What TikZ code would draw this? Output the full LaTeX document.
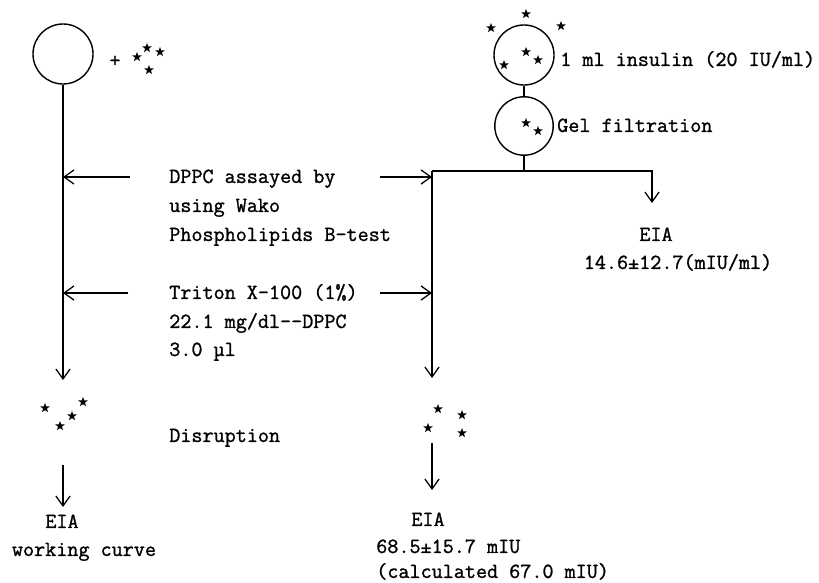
\documentclass[tikz,border=0pt]{standalone}
\usepackage{fontspec}
\newfontfamily\cour[FakeBold=1.2]{Latin Modern Mono}
\usetikzlibrary{shapes.geometric,arrows.meta}

\tikzset{
  cell/.style={draw, circle, line width=1pt, minimum size=1.5cm, inner sep=0pt},
  ins/.style={star, star points=5, star point ratio=2.4, fill, inner sep=0pt, minimum size=0.25cm},
  lbl/.style={font=\cour\fontsize{15.3}{20}\selectfont, inner sep=0pt, text height=8.5pt, text depth=0pt},
  flow/.style={line width=0.9pt, -{Straight Barb[length=7pt,width=10pt,line width=0.9pt]}},
  wire/.style={line width=0.9pt},
}

\begin{document}
\begin{tikzpicture}[x=0.025cm,y=-0.025cm]

% ---- layout parameters (pixels of the page) ----
\def\xL{63}     % left column
\def\xR{432}    % middle column
\def\xE{652}    % right branch
\def\yA{177}    % DPPC row
\def\yB{293}    % Triton row
\def\yT{171}    % branch line

\useasboundingbox (0,0) rectangle (819,583);

% Liposome, free insulin and column
\node[cell] (lip) at (\xL,54) {};
\node[lbl] (plus) at (115,61) {+};
\node[cell] (vial) at (524,55) {};
\node[cell, minimum size=1.46cm] (gel) at (524,126) {};

% insulin stars
\foreach \p [count=\i] in {(137,57),(147,48),(160,52),(149,70)}
  \node[ins] (fa\i) at \p {};
\foreach \p [count=\i] in {(526,14),(491,28),(561,26),(504,65),(526,52),(538,60)}
  \node[ins] (va\i) at \p {};
\foreach \p [count=\i] in {(526,123),(538,131)}
  \node[ins] (ga\i) at \p {};
\foreach \p [count=\i] in {(45,408),(83,402),(72,416),(60,426)}
  \node[ins] (la\i) at \p {};
\foreach \p [count=\i] in {(438,409),(462,415),(428,428),(462,433)}
  \node[ins] (ra\i) at \p {};

% Labels
\node[lbl, anchor=west] (insulin) at (560,60) {1 ml insulin (20 IU/ml)};
\node[lbl, anchor=west] (gelt) at (557,126) {Gel filtration};
\node[lbl, anchor=west] (dp1) at (169,\yA) {DPPC assayed by};
\node[lbl, anchor=west] (dp2) at (169,206) {using Wako};
\node[lbl, anchor=west] (dp3) at (169,235) {Phospholipids B-test};
\node[lbl, anchor=west] (tr1) at (169,\yB) {Triton X-100 (1\%)};
\node[lbl, anchor=west] (tr2) at (169,322) {22.1 mg/dl--DPPC};
\node[lbl, anchor=west] (tr3) at (169,350) {3.0 µl};
\node[lbl, anchor=west] (dis) at (169,436) {Disruption};
\node[lbl] (eiaT) at (656,235) {EIA};
\node[lbl] (eiaTv) at (678,263) {14.6±12.7(mIU/ml)};
\node[lbl] (eiaL) at (62,522) {EIA};
\node[lbl] (eiaLv) at (84,550) {working curve};
\node[lbl] (eiaR) at (428,520) {EIA};
\node[lbl, anchor=west] (eiaRv) at (376,547) {68.5±15.7 mIU};
\node[lbl, anchor=west] (eiaRc) at (376,572) {(calculated 67.0 mIU)};

% ---- connectors ----
\coordinate (lA) at (\xL,\yA);
\coordinate (lB) at (\xL,\yB);
\coordinate (lEnd) at (\xL,380);
\coordinate (lS) at (\xL,465);
\coordinate (lE) at (\xL,507);
\coordinate (sA) at (130,\yA);
\coordinate (sB) at (128,\yB);
\coordinate (tA) at (380,\yA);
\coordinate (tB) at (380,\yB);
\coordinate (rTop) at (\xR,\yT);
\coordinate (rA) at (\xR,\yA);
\coordinate (rB) at (\xR,\yB);
\coordinate (rEnd) at (\xR,378);
\coordinate (rS) at (\xR,443);
\coordinate (rE) at (\xR,490);
\coordinate (gT) at (524,\yT);
\coordinate (eT) at (\xE,\yT);
\coordinate (eE) at (\xE,203);

% left column
\draw[flow] (lip.south) -- (lEnd);
\draw[flow] (sA) -- (lA);
\draw[flow] (sB) -- (lB);
\draw[flow] (lS) -- (lE);

% column and branch
\draw[wire] (vial.south) -- (gel.north);
\draw[wire] (gel.south) -- (gT);
\draw[flow] (rTop) -- (eT) -- (eE);
\draw[flow] (rTop) -- (rEnd);
\draw[flow] (tA) -- (rA);
\draw[flow] (tB) -- (rB);
\draw[flow] (rS) -- (rE);

\end{tikzpicture}
\end{document}
